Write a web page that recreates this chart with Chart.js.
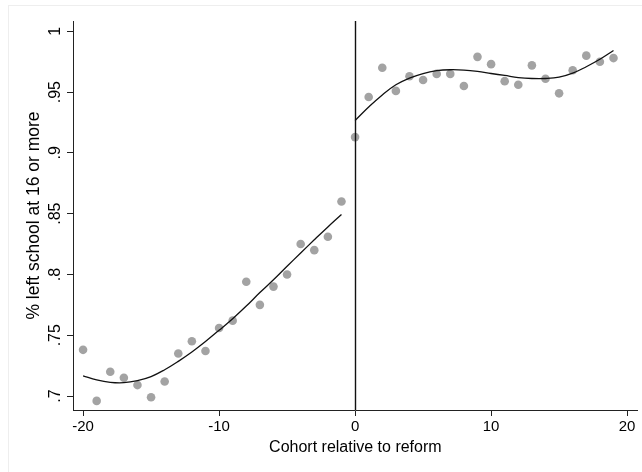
<!DOCTYPE html>
<html>
<head>
<meta charset="utf-8">
<script src="https://cdn.jsdelivr.net/npm/chart.js@4.4.1/dist/chart.umd.min.js"></script>
<style>
  body { margin: 0; background: #fff; }
  #wrap { position: relative; width: 642px; height: 472px; }
  #frame { position: absolute; left: 8px; top: 5px; width: 640px; height: 470px; border: 1px solid #eeeeee; }
  canvas { position: absolute; left: 0; top: 0; }
</style>
</head>
<body>
<div id="wrap">
  <div id="frame"></div>
  <canvas id="chart-canvas" width="642" height="472"></canvas>
</div>
<script>
// cohort years relative to reform
const cohorts = [-20, -19, -18, -17, -16, -15, -14, -13, -12, -11, -10, -9, -8, -7, -6, -5, -4, -3, -2, -1,
  0, 1, 2, 3, 4, 5, 6, 7, 8, 9, 10, 11, 12, 13, 14, 15, 16, 17, 18, 19];
const shareLeft = [0.738, 0.696, 0.720, 0.715, 0.709, 0.699, 0.712, 0.735, 0.745, 0.737,
  0.756, 0.762, 0.794, 0.775, 0.790, 0.800, 0.825, 0.820, 0.831, 0.860,
  0.913, 0.946, 0.970, 0.951, 0.963, 0.960, 0.965, 0.965, 0.955, 0.979,
  0.973, 0.959, 0.956, 0.972, 0.961, 0.949, 0.968, 0.980, 0.975, 0.978];

// fitted curves (before / after reform)
const fitBeforeX = [-20, -19, -18, -17, -16, -15, -14, -13, -12, -11, -10, -9, -8, -7, -6, -5, -4, -3, -2, -1];
const fitBefore = [0.7166, 0.7133, 0.7113, 0.7110, 0.7127, 0.7160, 0.7216, 0.7285, 0.7362, 0.7448,
  0.7541, 0.7636, 0.7740, 0.7851, 0.7956, 0.8067, 0.8177, 0.8285, 0.8391, 0.8493];
const fitAfterX = [0, 1, 2, 3, 4, 5, 6, 7, 8, 9, 10, 11, 12, 13, 14, 15, 16, 17, 18, 19];
const fitAfter = [0.9266, 0.9377, 0.9477, 0.9560, 0.9615, 0.9653, 0.9676, 0.9684, 0.9681, 0.9670,
  0.9653, 0.9637, 0.9620, 0.9612, 0.9612, 0.9623, 0.9656, 0.9709, 0.9770, 0.9842];

const reformAt = [0];

function pairs(xs, ys) {
  return xs.map((x, i) => ({ x: x, y: ys[i] }));
}

// vertical line at the reform cohort
const reformLine = {
  id: "reformLine",
  afterDatasetsDraw(chart) {
    const ctx = chart.ctx;
    const area = chart.chartArea;
    reformAt.forEach((v) => {
      const px = Math.round(chart.scales.x.getPixelForValue(v)) + 0.5;
      ctx.save();
      ctx.strokeStyle = "#111";
      ctx.lineWidth = 1.4;
      ctx.beginPath();
      ctx.moveTo(px, area.top);
      ctx.lineTo(px, area.bottom);
      ctx.stroke();
      ctx.restore();
    });
  },
};

const ctx = document.getElementById("chart-canvas").getContext("2d");
const chart = new Chart(ctx, {
  type: "scatter",
  data: {
    datasets: [
      {
        label: "fit before",
        type: "line",
        data: pairs(fitBeforeX, fitBefore),
        borderColor: "#111",
        borderWidth: 1.3,
        pointRadius: 0,
        tension: 0.4,
        fill: false,
      },
      {
        label: "fit after",
        type: "line",
        data: pairs(fitAfterX, fitAfter),
        borderColor: "#111",
        borderWidth: 1.3,
        pointRadius: 0,
        tension: 0.4,
        fill: false,
      },
      {
        label: "share",
        data: pairs(cohorts, shareLeft),
        backgroundColor: "rgb(163,163,163)",
        borderWidth: 0,
        pointRadius: 4.3,
      },
    ],
  },
  options: {
    responsive: false,
    animation: false,
    layout: { padding: { left: 0, top: 21, right: 0, bottom: 0 } },
    plugins: { legend: { display: false }, tooltip: { enabled: false } },
    scales: {
      x: {
        type: "linear",
        min: -20.74,
        max: 20.78,
        afterFit: (scale) => { scale.height = 62; },
        ticks: {
          stepSize: 10,
          includeBounds: false,
          color: "#000",
          padding: 2,
          font: { family: "Liberation Sans, Arial, sans-serif", size: 15 },
        },
        grid: { drawOnChartArea: false, drawTicks: true, tickLength: 6, color: "#222" },
        border: { color: "#222", width: 1 },
        title: {
          display: true,
          text: "Cohort relative to reform",
          color: "#000",
          padding: { top: 0, bottom: 15 },
          font: { family: "Liberation Sans, Arial, sans-serif", size: 16 },
        },
      },
      y: {
        min: 0.6885,
        max: 1.0085,
        afterFit: (scale) => { scale.width = 73; },
        ticks: {
          stepSize: 0.05,
          includeBounds: false,
          minRotation: 90,
          maxRotation: 90,
          crossAlign: "center",
          padding: 0,
          color: "#000",
          font: { family: "Liberation Sans, Arial, sans-serif", size: 16 },
          callback: (v) => (v === 1 ? "1" : String(+v.toFixed(2)).replace(/^0/, "")),
        },
        grid: { drawOnChartArea: false, drawTicks: true, tickLength: 6, color: "#222" },
        border: { color: "#222", width: 1 },
        title: {
          display: true,
          text: "% left school at 16 or more",
          color: "#000",
          padding: { top: 24, bottom: 0 },
          font: { family: "Liberation Sans, Arial, sans-serif", size: 17.5 },
        },
      },
    },
  },
  plugins: [reformLine],
});
</script>
</body>
</html>
